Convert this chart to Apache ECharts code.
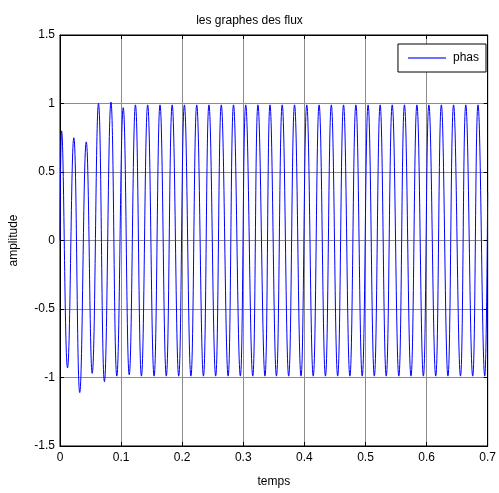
<!DOCTYPE html>
<html lang="en">

<head>
    <meta charset="UTF-8">
    <title>les graphes des flux</title>
    <style>
        * {
            margin: 0;
            padding: 0;
        }
        body {
            background: #fff;
        }
    </style>
    <script src="https://cdn.jsdelivr.net/npm/echarts@6/dist/echarts.min.js"></script>
</head>

<body>
    <div id="echart" style="width: 499px;height: 493px;"></div>
    <script>
        // valeurs : instants et amplitudes des crêtes / creux
        var startPoint = [0, 0]
        var endPoint = [0.7, 0.35]
        var peakTimes = [0.0026, 0.0226, 0.043, 0.063, 0.0834, 0.1035, 0.1235, 0.1435, 0.1637, 0.1836,
            0.2036, 0.2238, 0.2438, 0.264, 0.284, 0.304, 0.324, 0.3437, 0.3637, 0.3839,
            0.4039, 0.4241, 0.4441, 0.4641, 0.4843, 0.5043, 0.524, 0.5438, 0.5638, 0.5842,
            0.6038, 0.6242, 0.6442, 0.6642, 0.6842
        ]
        var peakValues = [0.80, 0.75, 0.72, 1.00, 1.01, 0.97, 0.99, 0.99, 0.99, 0.99,
            0.99, 0.99, 0.99, 0.99, 0.99, 0.99, 0.99, 0.99, 0.99, 0.99,
            0.99, 0.99, 0.99, 0.99, 0.99, 0.99, 0.99, 0.99, 0.99, 0.99,
            0.99, 0.99, 0.99, 0.99, 0.99
        ]
        var troughTimes = [0.0123, 0.0323, 0.0527, 0.0727, 0.093, 0.1133, 0.1333, 0.154, 0.174, 0.1943,
            0.2143, 0.2348, 0.2548, 0.2752, 0.2952, 0.3155, 0.3355, 0.3543, 0.3743, 0.3945,
            0.4145, 0.4345, 0.4545, 0.4745, 0.4947, 0.5145, 0.534, 0.5546, 0.5745, 0.5948,
            0.615, 0.635, 0.6555, 0.6755, 0.6952
        ]
        var troughValues = [-0.93, -1.11, -0.97, -1.03, -0.99, -0.98, -0.99, -0.99, -0.99, -0.99,
            -0.99, -0.99, -0.99, -0.99, -0.99, -0.99, -0.99, -0.99, -0.99, -0.99,
            -0.99, -0.99, -0.99, -0.99, -0.99, -0.99, -0.99, -0.99, -0.99, -0.99,
            -0.99, -0.99, -0.99, -0.99, -0.99
        ]

        var seriesData = [startPoint]
        for (var i = 0; i < peakTimes.length; i++) {
            seriesData.push([peakTimes[i], peakValues[i]])
            seriesData.push([troughTimes[i], troughValues[i]])
        }
        seriesData.push(endPoint)

        var font = 'Liberation Sans, Arial, sans-serif'
        var echart = echarts.init(document.getElementById('echart'));
        var option = {
            animation: false,
            backgroundColor: '#fff',
            title: {
                text: 'les graphes des flux',
                left: 'center',
                top: 10,
                textStyle: {
                    fontFamily: font,
                    fontSize: 12,
                    fontWeight: 'normal',
                    color: '#000'
                }
            },
            legend: {
                right: 13,
                top: 44,
                orient: 'vertical',
                backgroundColor: '#fff',
                borderColor: '#000',
                borderWidth: 1,
                borderRadius: 0,
                padding: [8, 7, 8, 10],
                itemWidth: 38,
                itemHeight: 2,
                itemGap: 4,
                textStyle: {
                    fontFamily: font,
                    fontSize: 12,
                    color: '#000',
                    padding: [0, 0, 0, 2]
                },
                data: [{
                    name: 'phas',
                    icon: 'rect',
                    itemStyle: {
                        color: '#7070ff'
                    }
                }]
            },
            grid: {
                left: 57,
                right: 9,
                top: 35,
                bottom: 44,
                show: true,
                borderColor: '#000',
                borderWidth: 1
            },
            xAxis: [{
                type: 'value',
                min: 0,
                max: 0.7,
                interval: 0.1,
                name: 'temps',
                nameLocation: 'middle',
                nameGap: 30,
                nameTextStyle: {
                    fontFamily: font,
                    fontSize: 12,
                    color: '#000'
                },
                axisLine: {
                    onZero: false,
                    lineStyle: {
                        color: '#000'
                    }
                },
                axisTick: {
                    inside: true,
                    length: 4,
                    lineStyle: {
                        color: '#000'
                    }
                },
                axisLabel: {
                    margin: 6,
                    fontFamily: font,
                    fontSize: 12,
                    color: '#000'
                },
                splitLine: {
                    lineStyle: {
                        color: '#8c8c8c',
                        width: 1
                    }
                }
            }, {
                type: 'value',
                position: 'top',
                min: 0,
                max: 0.7,
                interval: 0.1,
                axisLine: {
                    onZero: false,
                    lineStyle: {
                        color: '#000'
                    }
                },
                axisTick: {
                    inside: true,
                    length: 4,
                    lineStyle: {
                        color: '#000'
                    }
                },
                axisLabel: {
                    show: false
                },
                splitLine: {
                    show: false
                }
            }],
            yAxis: [{
                type: 'value',
                min: -1.5,
                max: 1.5,
                interval: 0.5,
                name: 'amplitude',
                nameLocation: 'middle',
                nameGap: 40,
                nameTextStyle: {
                    fontFamily: font,
                    fontSize: 12,
                    color: '#000'
                },
                axisLine: {
                    onZero: false,
                    lineStyle: {
                        color: '#000'
                    }
                },
                axisTick: {
                    inside: true,
                    length: 4,
                    lineStyle: {
                        color: '#000'
                    }
                },
                axisLabel: {
                    margin: 5,
                    fontFamily: font,
                    fontSize: 12,
                    color: '#000'
                },
                splitLine: {
                    lineStyle: {
                        color: '#8c8c8c',
                        width: 1
                    }
                }
            }, {
                type: 'value',
                position: 'right',
                min: -1.5,
                max: 1.5,
                interval: 0.5,
                axisLine: {
                    show: true,
                    onZero: false,
                    lineStyle: {
                        color: '#000'
                    }
                },
                axisTick: {
                    show: true,
                    inside: true,
                    length: 4,
                    lineStyle: {
                        color: '#000'
                    }
                },
                axisLabel: {
                    show: false
                },
                splitLine: {
                    show: false
                }
            }],
            series: [{
                name: 'phas',
                type: 'line',
                symbol: 'none',
                smooth: 0.45,
                lineStyle: {
                    color: '#0000ff',
                    width: 1
                },
                itemStyle: {
                    color: '#0000ff'
                },
                data: seriesData
            }]
        };
        echart.setOption(option);
    </script>
</body>

</html>
